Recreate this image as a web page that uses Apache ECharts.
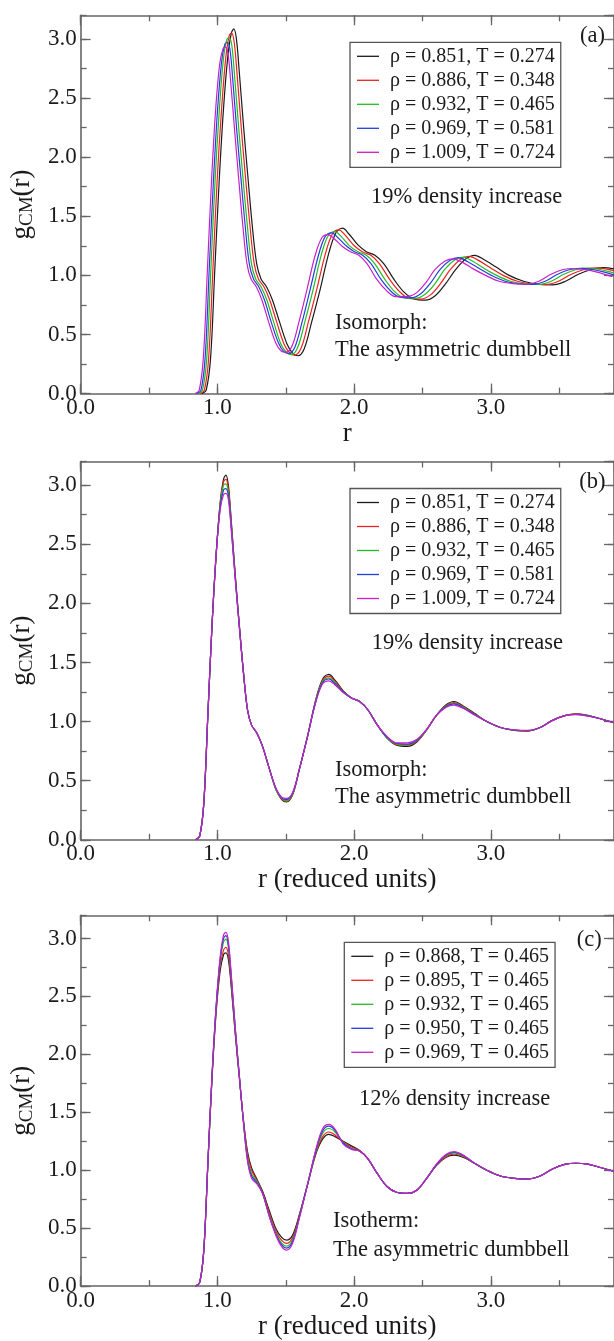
<!DOCTYPE html>
<html>
<head>
<meta charset="utf-8">
<script src="https://cdn.jsdelivr.net/npm/echarts@6/dist/echarts.min.js"></script>
<style>
html, body { margin: 0; padding: 0; background: #fff; }
#chart { width: 614px; height: 1341px; }
</style>
</head>
<body>
<div id="chart"></div>
<script>
// legend labels
const isoNames = ['ρ = 0.851, T = 0.274', 'ρ = 0.886, T = 0.348', 'ρ = 0.932, T = 0.465', 'ρ = 0.969, T = 0.581', 'ρ = 1.009, T = 0.724'];
const thermNames = ['ρ = 0.868, T = 0.465', 'ρ = 0.895, T = 0.465', 'ρ = 0.932, T = 0.465', 'ρ = 0.950, T = 0.465', 'ρ = 0.969, T = 0.465'];
const xTicks = [0, 1, 2, 3];

// r in reduced units, shared by panels (b) and (c)
const rReduced = [0.84,0.87,0.90,0.93,0.96,0.99,1.02,1.045,1.062,1.08,1.10,1.13,1.16,1.19,1.22,1.25,1.29,1.33,1.38,1.43,1.47,1.505,1.55,1.60,1.66,1.72,1.77,1.815,1.86,1.92,1.98,2.04,2.10,2.17,2.24,2.31,2.39,2.46,2.53,2.60,2.67,2.73,2.80,2.88,2.97,3.07,3.17,3.27,3.36,3.45,3.54,3.62,3.70,3.78,3.90];

// panel (a): r in plain units, one array per state point
const rA0851 = [0.886,0.918,0.95,0.981,1.013,1.044,1.076,1.102,1.12,1.139,1.16,1.192,1.224,1.255,1.287,1.319,1.361,1.403,1.456,1.509,1.551,1.588,1.635,1.688,1.751,1.815,1.867,1.915,1.962,2.026,2.089,2.152,2.216,2.289,2.363,2.437,2.521,2.595,2.669,2.743,2.817,2.88,2.954,3.038,3.133,3.239,3.344,3.45,3.545,3.64,3.735,3.819,3.904,3.988,4.115];
const rA0886 = [0.874,0.905,0.936,0.967,0.998,1.03,1.061,1.087,1.104,1.123,1.144,1.175,1.206,1.238,1.269,1.30,1.342,1.383,1.435,1.487,1.529,1.565,1.612,1.664,1.726,1.789,1.841,1.888,1.934,1.997,2.059,2.122,2.184,2.257,2.33,2.402,2.486,2.558,2.631,2.704,2.777,2.839,2.912,2.995,3.089,3.193,3.297,3.401,3.494,3.588,3.682,3.765,3.848,3.931,4.056];
const rA0932 = [0.86,0.891,0.922,0.952,0.983,1.014,1.044,1.07,1.087,1.106,1.126,1.157,1.188,1.219,1.249,1.28,1.321,1.362,1.413,1.464,1.505,1.541,1.587,1.638,1.70,1.761,1.812,1.859,1.905,1.966,2.028,2.089,2.15,2.222,2.294,2.365,2.447,2.519,2.591,2.662,2.734,2.796,2.867,2.949,3.041,3.144,3.246,3.348,3.441,3.533,3.625,3.707,3.789,3.871,3.994];
const rA0969 = [0.849,0.88,0.91,0.94,0.971,1.001,1.031,1.056,1.074,1.092,1.112,1.142,1.173,1.203,1.233,1.264,1.304,1.345,1.395,1.446,1.486,1.522,1.567,1.618,1.678,1.739,1.789,1.835,1.88,1.941,2.002,2.062,2.123,2.194,2.265,2.335,2.416,2.487,2.558,2.629,2.699,2.76,2.831,2.912,3.003,3.104,3.205,3.306,3.397,3.488,3.579,3.66,3.741,3.822,3.943];
const rA1009 = [0.837,0.867,0.897,0.927,0.957,0.987,1.017,1.042,1.059,1.077,1.097,1.127,1.157,1.186,1.216,1.246,1.286,1.326,1.376,1.426,1.466,1.50,1.545,1.595,1.655,1.715,1.765,1.81,1.854,1.914,1.974,2.034,2.094,2.163,2.233,2.303,2.383,2.453,2.522,2.592,2.662,2.722,2.792,2.871,2.961,3.061,3.16,3.26,3.35,3.44,3.529,3.609,3.689,3.769,3.888];

// isomorph g(r) values (panels a and b)
const gIso0851 = [0.00,0.03,0.30,1.05,1.80,2.40,2.85,3.05,3.085,3.00,2.72,2.25,1.82,1.42,1.10,0.97,0.90,0.79,0.60,0.42,0.34,0.32,0.38,0.60,0.88,1.19,1.36,1.40,1.35,1.26,1.20,1.17,1.10,0.97,0.86,0.80,0.79,0.83,0.93,1.05,1.14,1.17,1.13,1.07,1.00,0.95,0.925,0.92,0.95,1.01,1.05,1.065,1.055,1.03,0.99];
const gIso0886 = [0.00,0.03,0.30,1.05,1.80,2.40,2.84,3.03,3.05,2.97,2.70,2.24,1.82,1.42,1.10,0.97,0.90,0.79,0.60,0.42,0.345,0.325,0.385,0.60,0.88,1.18,1.35,1.385,1.34,1.255,1.20,1.17,1.10,0.97,0.865,0.805,0.80,0.835,0.93,1.05,1.135,1.16,1.125,1.065,1.00,0.95,0.927,0.922,0.95,1.01,1.05,1.063,1.053,1.03,0.99];
const gIso0932 = [0.00,0.03,0.30,1.05,1.80,2.40,2.83,3.00,3.01,2.94,2.68,2.23,1.81,1.42,1.10,0.97,0.90,0.79,0.60,0.42,0.35,0.33,0.39,0.60,0.88,1.18,1.34,1.37,1.33,1.25,1.20,1.17,1.10,0.97,0.865,0.81,0.805,0.84,0.93,1.05,1.13,1.155,1.12,1.06,1.00,0.95,0.928,0.923,0.95,1.01,1.05,1.062,1.052,1.03,0.99];
const gIso0969 = [0.00,0.03,0.30,1.05,1.80,2.40,2.81,2.96,2.97,2.91,2.66,2.22,1.81,1.42,1.10,0.97,0.90,0.79,0.60,0.43,0.355,0.34,0.395,0.60,0.88,1.17,1.33,1.36,1.32,1.25,1.20,1.17,1.10,0.97,0.87,0.815,0.81,0.845,0.935,1.05,1.125,1.15,1.115,1.06,1.00,0.95,0.929,0.924,0.95,1.01,1.05,1.06,1.05,1.03,0.99];
const gIso1009 = [0.00,0.03,0.30,1.05,1.80,2.40,2.79,2.92,2.93,2.88,2.64,2.21,1.80,1.42,1.10,0.97,0.90,0.79,0.60,0.43,0.36,0.35,0.40,0.60,0.88,1.17,1.32,1.345,1.31,1.245,1.20,1.17,1.10,0.97,0.875,0.82,0.82,0.85,0.935,1.05,1.12,1.14,1.11,1.055,1.00,0.95,0.93,0.925,0.95,1.01,1.05,1.058,1.048,1.03,0.99];

// isotherm g(r) values (panel c)
const gTherm0868 = [0.00,0.03,0.30,1.05,1.78,2.35,2.72,2.86,2.876,2.82,2.60,2.18,1.80,1.44,1.16,1.02,0.92,0.82,0.65,0.49,0.42,0.396,0.44,0.62,0.88,1.14,1.27,1.31,1.29,1.25,1.21,1.17,1.10,0.97,0.86,0.81,0.80,0.83,0.93,1.04,1.11,1.13,1.11,1.06,1.00,0.95,0.93,0.925,0.95,1.01,1.05,1.06,1.055,1.03,0.99];
const gTherm0895 = [0.00,0.03,0.30,1.05,1.79,2.37,2.76,2.90,2.923,2.86,2.63,2.20,1.81,1.43,1.14,1.00,0.91,0.81,0.63,0.47,0.395,0.368,0.42,0.61,0.88,1.15,1.29,1.33,1.305,1.245,1.20,1.17,1.10,0.97,0.86,0.81,0.80,0.83,0.93,1.04,1.115,1.14,1.115,1.06,1.00,0.95,0.93,0.925,0.95,1.01,1.05,1.06,1.055,1.03,0.99];
const gTherm0932 = [0.00,0.03,0.30,1.05,1.80,2.39,2.80,2.97,2.994,2.92,2.67,2.22,1.82,1.42,1.11,0.97,0.90,0.80,0.61,0.45,0.37,0.345,0.40,0.60,0.88,1.16,1.32,1.36,1.33,1.24,1.19,1.165,1.10,0.97,0.86,0.81,0.80,0.83,0.93,1.045,1.125,1.15,1.12,1.06,1.00,0.95,0.93,0.925,0.95,1.01,1.05,1.06,1.055,1.03,0.99];
const gTherm0950 = [0.00,0.03,0.30,1.05,1.80,2.40,2.82,3.00,3.024,2.95,2.69,2.23,1.82,1.42,1.09,0.95,0.89,0.80,0.60,0.44,0.355,0.328,0.385,0.60,0.88,1.17,1.34,1.38,1.345,1.235,1.185,1.165,1.10,0.97,0.86,0.81,0.80,0.83,0.93,1.045,1.13,1.155,1.125,1.06,1.00,0.95,0.93,0.925,0.95,1.01,1.05,1.06,1.055,1.03,0.99];
const gTherm0969 = [0.00,0.03,0.30,1.05,1.81,2.41,2.84,3.03,3.053,2.98,2.71,2.24,1.82,1.42,1.08,0.93,0.88,0.80,0.60,0.43,0.34,0.31,0.37,0.59,0.88,1.18,1.36,1.396,1.355,1.225,1.18,1.165,1.10,0.97,0.86,0.81,0.80,0.83,0.93,1.05,1.135,1.16,1.13,1.06,1.00,0.95,0.93,0.925,0.95,1.01,1.05,1.06,1.055,1.03,0.99];

const colors = ['#1a1a1a', '#f02020', '#22bb22', '#2040dd', '#c820c8'];
const FONT = "'Liberation Serif', 'Times New Roman', serif";
const AXIS = '#666';
const TXT = '#1a1a1a';

const panels = [
    { top: 15.3, rs: [rA0851, rA0886, rA0932, rA0969, rA1009], gs: [gIso0851, gIso0886, gIso0932, gIso0969, gIso1009], names: isoNames, xName: 'r', nameGap: 8, legendLeft: 350 },
    { top: 461.5, rs: [rReduced, rReduced, rReduced, rReduced, rReduced], gs: [gIso0851, gIso0886, gIso0932, gIso0969, gIso1009], names: isoNames, xName: 'r (reduced units)', nameGap: 20, legendLeft: 350 },
    { top: 915.3, rs: [rReduced, rReduced, rReduced, rReduced, rReduced], gs: [gTherm0868, gTherm0895, gTherm0932, gTherm0950, gTherm0969], names: thermNames, xName: 'r (reduced units)', nameGap: 20, legendLeft: 344.3 }
];

const grid = [], xAxis = [], yAxis = [], series = [], legend = [];

function tickAxis(p, pos, interval, major, isX) {
    const ax = {
        type: 'value', gridIndex: p, position: pos,
        min: 0, max: isX ? 3.9 : 3.2, interval: interval,
        axisLine: { show: major, onZero: false, lineStyle: { color: AXIS, width: 1.6 } },
        axisTick: { show: true, inside: true, length: major ? 10 : 6, lineStyle: { color: AXIS, width: 1.3 } },
        axisLabel: { show: false },
        splitLine: { show: false }
    };
    return ax;
}

panels.forEach((pn, p) => {
    grid.push({ left: 80, top: pn.top, width: 541, height: 378.3 });

    const xb = tickAxis(p, 'bottom', 1, true, true);
    xb.axisLabel = {
        show: true, margin: 3, showMaxLabel: false,
        fontFamily: FONT, fontSize: 23, color: TXT,
        formatter: v => (xTicks.indexOf(v) >= 0 ? v.toFixed(1) : '')
    };
    xb.name = pn.xName;
    xb.nameLocation = 'middle';
    xb.nameGap = pn.nameGap;
    xb.nameTextStyle = { fontFamily: FONT, fontSize: 27, color: TXT };
    xAxis.push(xb, tickAxis(p, 'bottom', 0.5, false, true), tickAxis(p, 'top', 1, true, true), tickAxis(p, 'top', 0.5, false, true));

    const yl = tickAxis(p, 'left', 0.5, true, false);
    yl.axisLabel = {
        show: true, margin: 4, showMaxLabel: false,
        fontFamily: FONT, fontSize: 23, color: TXT,
        formatter: v => v.toFixed(1)
    };
    yl.name = '{g|g}{s|CM}{g|(r)}';
    yl.nameLocation = 'middle';
    yl.nameGap = 36;
    yl.nameTextStyle = {
        fontFamily: FONT, fontSize: 27, color: TXT,
        rich: {
            g: { fontFamily: FONT, fontSize: 27, color: TXT },
            s: { fontFamily: FONT, fontSize: 19, color: TXT, padding: [12, 0, 0, 0] }
        }
    };
    yAxis.push(yl, tickAxis(p, 'left', 0.25, false, false), tickAxis(p, 'right', 0.5, true, false), tickAxis(p, 'right', 0.25, false, false));

    pn.names.forEach((nm, i) => {
        series.push({
            name: nm, type: 'line', xAxisIndex: p * 4, yAxisIndex: p * 4,
            data: pn.rs[i].map((r, k) => [r, pn.gs[i][k]]),
            symbol: 'none', smooth: 0.35, clip: true,
            lineStyle: { color: colors[i], width: 1.2 },
            itemStyle: { color: colors[i] },
            z: 3 + i
        });
    });

    legend.push({
        orient: 'vertical', left: pn.legendLeft, top: pn.top + 27,
        data: pn.names, icon: 'rect', itemWidth: 22, itemHeight: 1.3, itemGap: 4,
        padding: [4, 6, 5, 7], borderColor: '#555', borderWidth: 1.3, borderRadius: 0,
        backgroundColor: '#fff', selectedMode: false,
        textStyle: { fontFamily: FONT, fontSize: 20, lineHeight: 20, color: TXT, padding: [0, 0, 0, 6] }
    });
});

function note(x, y, text) {
    return { type: 'text', x: x, y: y, z: 10, style: { text: text, font: '22.5px ' + FONT, fill: TXT, verticalAlign: 'middle' } };
}

const graphic = [
    note(580, 36.5, '(a)'), note(371, 196.7, '19% density increase'), note(335, 323.3, 'Isomorph:'), note(335, 350, 'The asymmetric dumbbell'),
    note(579.3, 482.3, '(b)'), note(371.7, 642.7, '19% density increase'), note(335, 770, 'Isomorph:'), note(335, 796.7, 'The asymmetric dumbbell'),
    note(576.7, 940, '(c)'), note(359, 1099, '12% density increase'), note(333, 1221, 'Isotherm:'), note(333, 1250.5, 'The asymmetric dumbbell')
];

const chart = echarts.init(document.getElementById('chart'), null, { renderer: 'canvas' });
chart.setOption({
    animation: false,
    backgroundColor: '#fff',
    grid: grid,
    xAxis: xAxis,
    yAxis: yAxis,
    legend: legend,
    series: series,
    graphic: graphic
});
</script>
</body>
</html>
